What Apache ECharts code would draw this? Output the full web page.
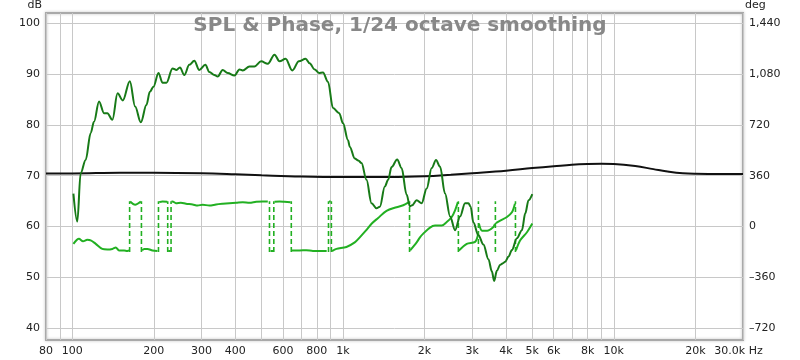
<!DOCTYPE html>
<html><head><meta charset="utf-8">
<script src="https://cdn.jsdelivr.net/npm/echarts@6/dist/echarts.min.js"></script>
<style>html,body{margin:0;padding:0;background:#fff}#c{width:800px;height:360px}</style>
</head><body><div id="c"></div>
<script>
// ---- data ----
const titleText = 'SPL & Phase, 1/24 octave smoothing';
const gridFreqs = [80,90,100,200,300,400,500,600,700,800,900,1000,2000,3000,4000,5000,6000,7000,8000,9000,10000,20000,30000];
const xLabelFreqs = [80,100,200,300,400,600,800,1000,2000,3000,4000,5000,6000,8000,10000,20000,30000];
const xLabelTexts = ['80','100','200','300','400','600','800','1k','2k','3k','4k','5k','6k','8k','10k','20k','30.0k Hz'];
const dbTicks = [40,50,60,70,80,90,100];
const degTicks = [-720,-360,0,360,720,1080,1440];

const splFreq = [101,104.4,107.4,112.1,117,120.3,125.6,131,134.8,140.7,147,153.7,163.2,170.7,179.2,187.9,193.5,199.5,208.2,215.4,222.9,234.6,242.7,249.9,259.3,270.6,282.3,294.6,310.1,320.9,334.9,344.4,359.4,375.1,397.2,414.5,426.3,451.3,470.9,498.5,527.4,558.5,583,613.6,649.6,687.1,727.6,752.8,785.6,814.9,843.2,880,918.4,968,1000,1043.5,1058.8,1104.9,1138.5,1170,1220.9,1274.1,1329.5,1367.5,1427.1,1467.9,1511,1584.9,1645.5,1717,1766,1800,1870,1952,2037,2126,2205,2282,2381,2485,2593,2706,2823,2904,2960,3030,3162,3300,3443,3545,3615,3699,3806,3900,3972,4085,4205,4387,4578,4710,4844,5000];
const splDb = [66.5,61.0,70.5,73.1,78.4,80.6,84.6,82.3,82.3,81.0,86.2,84.8,88.6,83.6,80.5,83.9,86.5,87.5,90.2,88.3,88.3,91.1,90.8,91.3,89.8,91.8,92.6,90.8,91.8,90.4,89.8,89.5,90.8,90.2,89.7,90.9,90.7,91.5,91.5,92.5,92.0,93.8,92.5,93.0,90.7,92.5,93.0,92.1,90.9,90.2,90.3,88.5,83.3,82.3,80.3,77.0,75.7,73.4,73.0,72.5,69.2,64.6,63.6,63.9,67.9,69.2,71.7,73.2,71.5,66.3,64.0,64.2,65.2,64.6,67.5,71.5,73.1,71.8,66.5,62.0,59.3,62.0,64.6,64.6,63.9,60.8,58.3,56.5,53.6,51.2,49.3,51.3,52.5,52.8,53.1,54.1,55.4,57.7,59.3,62.6,65.2,66.4];

// phase (deg); null marks a wrap between +/-180
const phaseFreq = [101,105.9,109.6,113.6,117,122.1,129.1,134.8,140.7,144.8,148.9,155.4,159.8,162.2,162.9,163.6,170.7,179.2,180.1,181.2,184.4,189.6,197.8,206.4,208.2,209.5,215.4,224.2,225.2,226.1,230.7,231.7,232.6,234.6,241.5,252,263,278.3,290.4,303,320.9,339.8,359.4,380.5,402.9,426.3,451.3,477.8,505.4,527.4,535.1,539.7,553.7,555.2,558.5,583,608.4,640.3,644.1,647.4,691.3,731.8,774.3,819.7,870.3,883.9,887.6,900.5,905.7,910.4,945.3,1029.4,1104.9,1153.2,1213.7,1277,1348,1447.6,1577,1668.6,1751.3,1760.5,1769.5,1870.5,1923.8,1978.6,2094.8,2186,2314.6,2415.5,2520.6,2592.8,2655.4,2666.7,2678,2864.4,3074.3,3148,3162.3,3176,3263.9,3406,3584.5,3637,3653,3668,3806,4030,4205,4314,4333,4351,4512,4778,5000];
const phaseDeg = [-122,-86,-104,-94,-97,-122,-158,-162,-158,-148,-169,-169,-173,-169,null,178,155,178,null,-169,-158,-158,-169,-173,null,173,178,176,null,-173,-173,null,176,178,166,169,162,157,149,155,149,157,162,166,169,173,169,176,178,178,null,-173,-173,null,176,178,176,173,null,-169,-169,-167,-173,-173,-173,null,178,178,null,-173,-158,-144,-112,-76,-29,22,61,112,137,151,173,null,-169,-112,-76,-50,-7,7,7,32,68,115,173,null,-169,-122,-108,-61,null,22,-29,-29,-4,18,null,25,43,68,101,162,null,-169,-97,-40,22];

const refFreq = [80,100,150,200,300,400,500,700,1000,1500,2000,2500,3000,4000,5000,6000,7000,8000,9000,10000,12000,14000,16000,18000,20000,25000,30000];
const refDb = [70.45,70.45,70.6,70.6,70.5,70.3,70.1,69.85,69.75,69.75,69.9,70.2,70.5,71.0,71.5,71.85,72.15,72.3,72.35,72.3,71.9,71.3,70.8,70.5,70.4,70.35,70.35];

// ---- build ----
const L = Math.log10;
const splData = splFreq.map((f,i)=>[L(f), splDb[i]]);
const refData = refFreq.map((f,i)=>[L(f), refDb[i]]);
const phaseData = phaseFreq.map((f,i)=>[L(f), phaseDeg[i] === null ? null : phaseDeg[i]]);
const wrapData = [];
phaseFreq.forEach((f,i)=>{ if (phaseDeg[i] === null) { wrapData.push([L(f),-180],[L(f),180],[L(f),null]); } });

const dbMin = 37.7, dbMax = 102;
const toDeg = v => (v - 60) * 36;
const font = 'DejaVu Sans';

const chart = echarts.init(document.getElementById('c'), null, {renderer:'canvas'});
chart.setOption({
  animation: false,
  backgroundColor: '#fff',
  title: {
    text: titleText, left: 'center', top: 11,
    textStyle: {fontFamily: font, fontWeight: 'bold', fontSize: 20, color: '#888888'}
  },
  grid: {left: 46, right: 57, top: 13, bottom: 20, show: true, borderColor: '#a9a9a9', borderWidth: 2,
    shadowColor: 'rgba(0,0,0,0.25)', shadowBlur: 3, backgroundColor: 'rgba(255,255,255,0)'},
  xAxis: {
    type: 'value', min: L(80), max: L(30000),
    axisLine: {show: false},
    axisTick: {show: false, customValues: gridFreqs.map(L)},
    splitLine: {show: true, lineStyle: {color: '#c8c8c8', width: 1}},
    axisLabel: {
      customValues: xLabelFreqs.map(L), margin: 6,
      fontFamily: font, fontSize: 11, color: '#222',
      formatter: v => {
        const i = xLabelFreqs.findIndex(f => Math.abs(L(f) - v) < 1e-4);
        if (i < 0) return '';
        return i === xLabelFreqs.length - 1 ? '{e|' + xLabelTexts[i] + '}' : xLabelTexts[i];
      },
      rich: {e: {fontFamily: font, fontSize: 11, color: '#222', padding: [0, 9, 0, 0]}}
    }
  },
  yAxis: [{
    type: 'value', min: dbMin, max: dbMax, position: 'left',
    name: 'dB', nameLocation: 'end', nameGap: 2,
    nameTextStyle: {fontFamily: font, fontSize: 11, color: '#222', align: 'right', verticalAlign: 'bottom', padding: [0, 4, 0, 0]},
    axisLine: {show: false}, axisTick: {show: false, customValues: dbTicks},
    splitLine: {show: true, lineStyle: {color: '#c8c8c8', width: 1}},
    axisLabel: {customValues: dbTicks, margin: 6, fontFamily: font, fontSize: 11, color: '#222'}
  }, {
    type: 'value', min: toDeg(dbMin), max: toDeg(dbMax), position: 'right',
    name: 'deg', nameLocation: 'end', nameGap: 2,
    nameTextStyle: {fontFamily: font, fontSize: 11, color: '#222', align: 'left', verticalAlign: 'bottom', padding: [0, 0, 0, 2]},
    axisLine: {show: false}, axisTick: {show: false, customValues: degTicks},
    splitLine: {show: false},
    axisLabel: {customValues: degTicks, margin: 6, fontFamily: font, fontSize: 11, color: '#222',
      formatter: v => v < 0 ? '\u2013' + Math.abs(v) : v.toLocaleString('en-US')}
  }],
  series: [
    {type: 'line', name: 'ref', data: refData, yAxisIndex: 0, showSymbol: false, smooth: 0.4,
     lineStyle: {color: '#111', width: 2}, z: 2},
    {type: 'line', name: 'wrap', data: wrapData, yAxisIndex: 1, showSymbol: false, connectNulls: false,
     lineStyle: {color: '#22b022', width: 1.6, type: [5, 3]}, z: 3},
    {type: 'line', name: 'phase', data: phaseData, yAxisIndex: 1, showSymbol: false, connectNulls: false, smooth: 0.3,
     lineStyle: {color: '#22b022', width: 2}, z: 4},
    {type: 'line', name: 'SPL', data: splData, yAxisIndex: 0, showSymbol: false, smooth: 0.35, smoothMonotone: 'x',
     lineStyle: {color: '#177a17', width: 2}, z: 5}
  ]
});
</script>
</body></html>
